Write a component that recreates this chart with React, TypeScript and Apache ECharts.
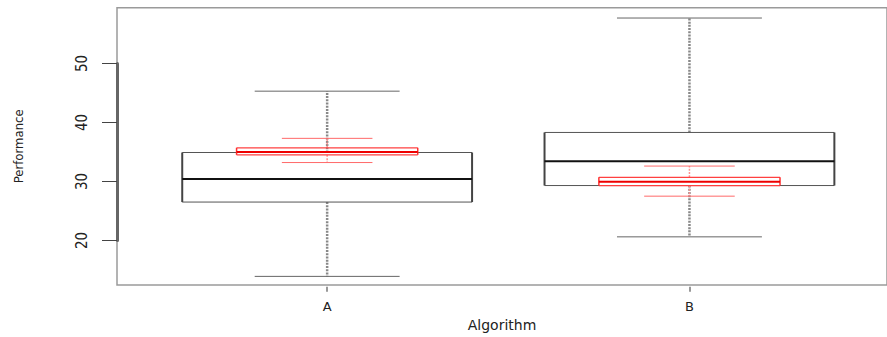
import React, { useEffect, useRef } from 'react';
import * as echarts from 'echarts';

const categories = ['A', 'B'];
// [lower whisker, Q1, median, Q3, upper whisker]
const mainLow = [13.9, 20.6];
const mainQ1 = [26.5, 29.3];
const mainMedian = [30.4, 33.4];
const mainQ3 = [34.9, 38.3];
const mainHigh = [45.3, 57.7];

const redLow = [33.2, 27.5];
const redQ1 = [34.5, 29.3];
const redMedian = [35.0, 29.95];
const redQ3 = [35.7, 30.7];
const redHigh = [37.3, 32.6];

const yTicks = [20, 30, 40, 50];
const yRange = [12.15, 59.45];

const W = 887;
const H = 337;
const PLOT_TOP = 7.7;
const PLOT_H = 279;
const NARROW = "'Liberation Sans Narrow', 'DejaVu Sans Condensed', 'Liberation Sans', Arial, sans-serif";
const WIDE = "'DejaVu Sans', 'Liberation Sans', sans-serif";

type BoxStyle = {
  half: number;
  box: string;
  boxW: number;
  side: string;
  sideW: number;
  med: string;
  medW: number;
  whisk: string;
  whiskW: number;
  dash: number[];
  cap: string;
  capW: number;
};

function makeRender(st: BoxStyle) {
  return (params: any, api: any) => {
    const xi = api.value(0);
    const lo = api.value(1);
    const q1 = api.value(2);
    const med = api.value(3);
    const q3 = api.value(4);
    const hi = api.value(5);
    const band = api.size([1, 0])[0];
    const half = band * st.half;
    const cap = half * 0.5;
    const cx = api.coord([xi, med])[0];
    const yLo = api.coord([xi, lo])[1];
    const yQ1 = api.coord([xi, q1])[1];
    const yMed = api.coord([xi, med])[1];
    const yQ3 = api.coord([xi, q3])[1];
    const yHi = api.coord([xi, hi])[1];
    const line = (x1: number, y1: number, x2: number, y2: number, stroke: string, lineWidth: number, dash?: number[]) => ({
      type: 'line',
      shape: { x1, y1, x2, y2 },
      style: { stroke, lineWidth, lineDash: dash, fill: null },
    });
    return {
      type: 'group',
      children: [
        line(cx, yQ3, cx, yHi, st.whisk, st.whiskW, st.dash),
        line(cx, yQ1, cx, yLo, st.whisk, st.whiskW, st.dash),
        line(cx - cap, yHi, cx + cap, yHi, st.cap, st.capW),
        line(cx - cap, yLo, cx + cap, yLo, st.cap, st.capW),
        line(cx - half, yQ3, cx + half, yQ3, st.box, st.boxW),
        line(cx - half, yQ1, cx + half, yQ1, st.box, st.boxW),
        line(cx - half, yQ3, cx - half, yQ1, st.side, st.sideW),
        line(cx + half, yQ3, cx + half, yQ1, st.side, st.sideW),
        line(cx - half, yMed, cx + half, yMed, st.med, st.medW),
      ],
    };
  };
}

const mainData = categories.map((_, i) => [i, mainLow[i], mainQ1[i], mainMedian[i], mainQ3[i], mainHigh[i]]);
const redData = categories.map((_, i) => [i, redLow[i], redQ1[i], redMedian[i], redQ3[i], redHigh[i]]);

export default function App() {
  const ref = useRef<HTMLDivElement>(null);
  useEffect(() => {
    if (!ref.current) return;
    const chart = echarts.init(ref.current, undefined, { renderer: 'svg' });
    const span = yRange[1] - yRange[0];
    const tickMin = yTicks[0];
    const tickMax = yTicks[yTicks.length - 1];
    const axisTop = PLOT_TOP + ((yRange[1] - tickMax) / span) * PLOT_H;
    const axisH = ((tickMax - tickMin) / span) * PLOT_H;
    const hidden = { show: false };
    chart.setOption({
      animation: false,
      backgroundColor: '#ffffff',
      grid: [
        { left: 146, top: PLOT_TOP, width: 724.6, height: PLOT_H },
        { left: 117, top: PLOT_TOP, width: 782, height: PLOT_H, show: true, borderColor: '#9a9a9a', borderWidth: 1.5, backgroundColor: 'transparent' },
        { left: 117, top: axisTop, width: 782, height: axisH },
      ],
      xAxis: [
        {
          gridIndex: 0,
          type: 'category',
          data: categories,
          boundaryGap: true,
          axisLine: hidden,
          axisTick: { show: true, alignWithLabel: true, length: 5, lineStyle: { color: '#999', width: 2 } },
          axisLabel: { margin: 13, fontFamily: WIDE, fontSize: 13, color: '#222' },
          splitLine: hidden,
        },
        {
          gridIndex: 1,
          type: 'value',
          min: 0,
          max: 1,
          name: 'Algorithm',
          nameLocation: 'middle',
          nameGap: 33,
          nameTextStyle: { fontFamily: WIDE, fontSize: 14, color: '#222' },
          axisLine: hidden,
          axisTick: hidden,
          axisLabel: hidden,
          splitLine: hidden,
        },
        { gridIndex: 2, type: 'value', show: false },
      ],
      yAxis: [
        { gridIndex: 0, type: 'value', min: yRange[0], max: yRange[1], show: false },
        {
          gridIndex: 1,
          type: 'value',
          min: 0,
          max: 1,
          name: 'Performance',
          nameLocation: 'middle',
          nameGap: 92,
          nameRotate: 90,
          nameTextStyle: { fontFamily: NARROW, fontSize: 13, color: '#222' },
          axisLine: hidden,
          axisTick: hidden,
          axisLabel: hidden,
          splitLine: hidden,
        },
        {
          gridIndex: 2,
          type: 'value',
          min: tickMin,
          max: tickMax,
          interval: yTicks[1] - yTicks[0],
          axisLine: { show: true, lineStyle: { color: '#666', width: 3 } },
          axisTick: { show: true, length: 15, lineStyle: { color: '#444', width: 1 } },
          axisLabel: { rotate: 90, margin: 28, fontFamily: NARROW, fontSize: 15, color: '#222' },
          splitLine: hidden,
        },
      ],
      series: [
        {
          type: 'custom',
          xAxisIndex: 0,
          yAxisIndex: 0,
          data: mainData,
          encode: { x: 0, y: [1, 2, 3, 4, 5] },
          renderItem: makeRender({
            half: 0.4,
            box: '#555',
            boxW: 1,
            side: '#444',
            sideW: 2,
            med: '#111',
            medW: 2,
            whisk: '#888',
            whiskW: 2.5,
            dash: [2, 1.2],
            cap: '#666',
            capW: 1,
          }),
        },
        {
          type: 'custom',
          xAxisIndex: 0,
          yAxisIndex: 0,
          data: redData,
          encode: { x: 0, y: [1, 2, 3, 4, 5] },
          renderItem: makeRender({
            half: 0.25,
            box: '#ff4040',
            boxW: 1.2,
            side: '#ff3030',
            sideW: 1.5,
            med: '#ee0000',
            medW: 2,
            whisk: '#ff9090',
            whiskW: 1.5,
            dash: [2, 1.3],
            cap: '#ff6a6a',
            capW: 1,
          }),
        },
      ],
    });
    return () => chart.dispose();
  }, []);
  return <div ref={ref} style={{ position: 'absolute', left: 0, top: 0, width: W, height: H }} />;
}
